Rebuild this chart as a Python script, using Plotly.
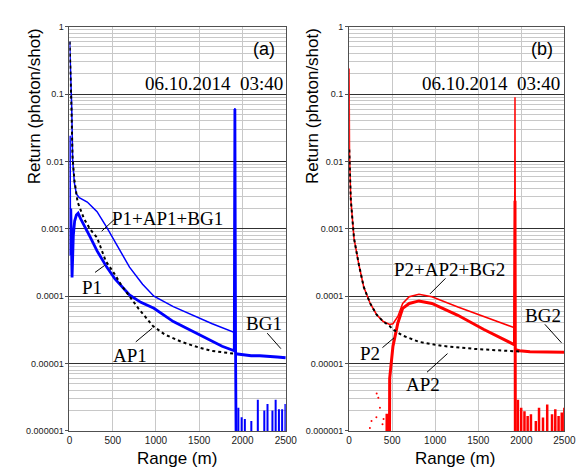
import plotly.graph_objects as go

W, H = 585, 469

# ---- panel (a): blue ----
tot1_x = [2, 10, 26, 37, 56, 80, 113, 206, 319, 431, 544, 694, 845, 976, 1200, 1426, 1650, 1905, 1912, 1918]
tot1_y = [0.6, 0.3, 0.063, 0.0105, 0.0049, 0.0033, 0.0029, 0.0025, 0.0018, 0.00105, 0.00058, 0.00027,
          0.00015, 0.0001, 7e-5, 5.2e-5, 3.9e-5, 2.9e-5, 0.062, 1.4e-5]
bg1_x = [1918, 2000, 2100, 2200, 2300, 2400, 2500]
bg1_y = [1.4e-5, 1.36e-5, 1.3e-5, 1.3e-5, 1.26e-5, 1.25e-5, 1.22e-5]
p1_x = [0, 5, 15, 30, 45, 60, 80, 100, 130, 169, 240, 319, 431, 526, 610, 694, 825, 976, 1201, 1426,
        1600, 1764, 1905, 1912, 1920, 1935]
p1_y = [0.024, 0.0004, 0.002, 0.00019, 0.0008, 0.0013, 0.0016, 0.0017, 0.0014, 0.00114, 0.00075,
        0.00047, 0.00027, 0.00018, 0.000135, 0.000104, 8.1e-5, 6.6e-5, 4.2e-5, 3.0e-5, 2.3e-5, 1.8e-5,
        1.55e-5, 0.06, 1.4e-5, 1e-8]
p1_spk_x = [1952, 1990, 2027, 2102, 2177, 2252, 2289, 2346, 2383, 2421, 2458, 2496]
p1_spk_y = [2.2e-6, 1.6e-6, 1.5e-6, 1.4e-6, 2.9e-6, 2.0e-6, 2.5e-6, 2.0e-6, 2.9e-6, 2.1e-6, 2.1e-6, 2.5e-6]
ap1_x = [2, 12, 25, 35, 45, 56, 94, 169, 240, 319, 420, 525, 600, 694, 800, 965, 1100, 1295, 1450,
         1633, 1800, 1900]
ap1_y = [0.6, 0.25, 0.05, 0.012, 0.007, 0.0054, 0.0025, 0.0014, 0.00098, 0.00074, 0.00033, 0.00021,
         0.000145, 9.8e-5, 6.5e-5, 3.6e-5, 2.7e-5, 2.1e-5, 1.8e-5, 1.55e-5, 1.45e-5, 1.4e-5]

# ---- panel (b): red ----
tot2_x = [0, 2, 5, 19, 38, 57, 113, 170, 245, 320, 396, 471, 509, 566, 622, 698, 811, 961, 1263,
          1565, 1885, 1920, 1926, 1932]
tot2_y = [0.24, 0.03, 0.012, 0.0028, 0.0014, 0.00072, 0.000295, 0.000137, 7.8e-5, 5.3e-5, 4.2e-5,
          3.8e-5, 3.9e-5, 5e-5, 7.8e-5, 9.8e-5, 0.000107, 9.8e-5, 6.9e-5, 5e-5, 3.6e-5, 3.4e-5, 0.09, 1.6e-5]
bg2_x = [1932, 1979, 2100, 2200, 2300, 2400, 2500]
bg2_y = [1.6e-5, 1.55e-5, 1.5e-5, 1.5e-5, 1.48e-5, 1.5e-5, 1.47e-5]
p2_x = [435, 440, 450, 465, 471, 490, 509, 566, 622, 698, 811, 961, 1263, 1565, 1829, 1904, 1920,
        1926, 1932]
p2_y = [1e-8, 1.8e-6, 1e-8, 1e-8, 6e-6, 1e-5, 1.8e-5, 4e-5, 6.6e-5, 7.8e-5, 8.5e-5, 7.8e-5, 5.2e-5,
        3.2e-5, 2.2e-5, 1.95e-5, 1.9e-5, 0.0026, 1e-8]
p2_dot_x = [241, 260, 317, 320, 339, 358, 388, 400]
p2_dot_y = [1.1e-6, 1.4e-6, 1.6e-6, 3.6e-6, 3.1e-6, 2.2e-6, 1.26e-6, 1.5e-6]
p2_spk_x = [1960, 1998, 2036, 2073, 2111, 2168, 2205, 2251, 2300, 2356, 2394, 2432, 2469, 2499]
p2_spk_y = [2.9e-6, 2.2e-6, 1.96e-6, 1.67e-6, 1.77e-6, 1.4e-6, 2.2e-6, 1.58e-6, 2.46e-6, 1.77e-6,
            2.1e-6, 1.67e-6, 1.87e-6, 2.2e-6]
ap2_x = [2, 19, 38, 57, 113, 170, 245, 320, 396, 471, 509, 622, 811, 1074, 1451, 1829, 2000]
ap2_y = [0.015, 0.0028, 0.0014, 0.00072, 0.000295, 0.000137, 7.8e-5, 5.3e-5, 4.2e-5, 3.6e-5, 3.2e-5,
         2.6e-5, 2.1e-5, 1.83e-5, 1.65e-5, 1.55e-5, 1.5e-5]

y_ticks = [1e-6, 1e-5, 1e-4, 1e-3, 1e-2, 1e-1, 1]
y_labels = ["0.000001", "0.00001", "0.0001", "0.001", "0.01", "0.1", "1"]
x_ticks = [0, 500, 1000, 1500, 2000, 2500]

FLOOR = 1e-8


def spikes(xs, ys):
    sx, sy = [], []
    for x, y in zip(xs, ys):
        sx += [x - 2, x, x + 2, None]
        sy += [FLOOR, y, FLOOR, None]
    return sx, sy


fig = go.Figure()


def line(x, y, color, width, ax, dash="solid"):
    fig.add_trace(go.Scatter(x=x, y=y, mode="lines", xaxis=ax[0], yaxis=ax[1], showlegend=False,
                             line=dict(color=color, width=width, dash=dash)))


a = ("x", "y")
b = ("x2", "y2")
line(tot1_x, tot1_y, "#0000ff", 1.5, a)
line(bg1_x, bg1_y, "#0000ff", 3, a)
line(p1_x, p1_y, "#0000ff", 2.8, a)
sx, sy = spikes(p1_spk_x, p1_spk_y)
line(sx, sy, "#0000ff", 2, a)
line(ap1_x, ap1_y, "black", 2, a, "dot")

fig.add_trace(go.Scatter(x=p2_dot_x, y=p2_dot_y, mode="markers", xaxis="x2", yaxis="y2",
                         showlegend=False, marker=dict(color="#ff0000", size=2)))
line(p2_x, p2_y, "#ff0000", 3, b)
sx, sy = spikes(p2_spk_x, p2_spk_y)
line(sx, sy, "#ff0000", 2.5, b)
line(tot2_x, tot2_y, "#ff0000", 1.5, b)
line(bg2_x, bg2_y, "#ff0000", 3, b)
line(ap2_x, ap2_y, "black", 2, b, "dot")

xa = dict(range=[0, 2500], tickvals=x_ticks, showgrid=True, gridcolor="#c8c8c8", gridwidth=1,
          zeroline=False, showline=True, linecolor="#505050", mirror=True, ticks="",
          tickfont=dict(family="Liberation Sans, Arial", size=10, color="#202020"))
ya = dict(type="log", range=[-6, 0], tickmode="array", tickvals=y_ticks, ticktext=y_labels,
          showgrid=True, gridcolor="#303030", gridwidth=1, zeroline=False, showline=True,
          linecolor="#505050", mirror=True, ticks="outside", ticklen=3, tickcolor="#505050",
          tickfont=dict(family="Liberation Sans, Arial", size=9, color="#202020"),
          minor=dict(dtick="D1", showgrid=True, gridcolor="#c8c8c8", gridwidth=1))

top = 1 - 14 / H
bot = 1 - 427 / H
fig.update_layout(
    width=W, height=H, margin=dict(l=0, r=0, t=0, b=0),
    paper_bgcolor="white", plot_bgcolor="white",
    xaxis=dict(xa, domain=[60 / W, 282 / W], anchor="y"),
    yaxis=dict(ya, domain=[bot, top], anchor="x"),
    xaxis2=dict(xa, domain=[347 / W, 568 / W], anchor="y2"),
    yaxis2=dict(ya, domain=[bot, top], anchor="x2"),
)

serif = dict(family="Liberation Serif, Times New Roman", size=19, color="black")
sans = dict(family="Liberation Sans, Arial", size=17, color="black")


def text(px, py, s, font, xanchor="center", angle=0):
    fig.add_annotation(x=px / W, y=1 - py / H, xref="paper", yref="paper", text=s, showarrow=False,
                       xanchor=xanchor, yanchor="middle", font=font, textangle=angle)


def pointer(px, py, dx, dy):
    fig.add_annotation(x=px / W, y=1 - py / H, xref="paper", yref="paper", text="", showarrow=True,
                       arrowhead=0, arrowwidth=1, arrowcolor="black", ax=dx, ay=dy,
                       axref="pixel", ayref="pixel")


for px, t in [(25, "Return (photon/shot)"), (310, "Return (photon/shot)")]:
    text(px, 95, t, sans, angle=-90)
text(170, 455, "Range (m)", sans)
text(456, 455, "Range (m)", sans)
text(260, 37, "(a)", dict(sans, size=18))
text(545, 37, "(b)", dict(sans, size=18))
text(281, 72, "06.10.2014&nbsp;&nbsp;03:40", serif, "right")
text(566, 72, "06.10.2014&nbsp;&nbsp;03:40", serif, "right")

text(161, 210, "P1+AP1+BG1", serif)
text(83, 280, "P1", serif)
text(122, 350, "AP1", serif)
text(260, 317, "BG1", serif)
pointer(93, 223, 14, -13)
pointer(96, 258, -11, 8)
pointer(145, 322, -18, 15)
pointer(277, 343, -15, -17)

text(450, 262, "P2+AP2+BG2", serif)
text(368, 348, "P2", serif)
text(423, 380, "AP2", serif)
text(546, 309, "BG2", serif)
pointer(430, 287, 17, -17)
pointer(393, 332, -13, 11)
pointer(448, 348, -22, 20)
pointer(565, 337, -18, -20)

fig.write_html("out.html")
